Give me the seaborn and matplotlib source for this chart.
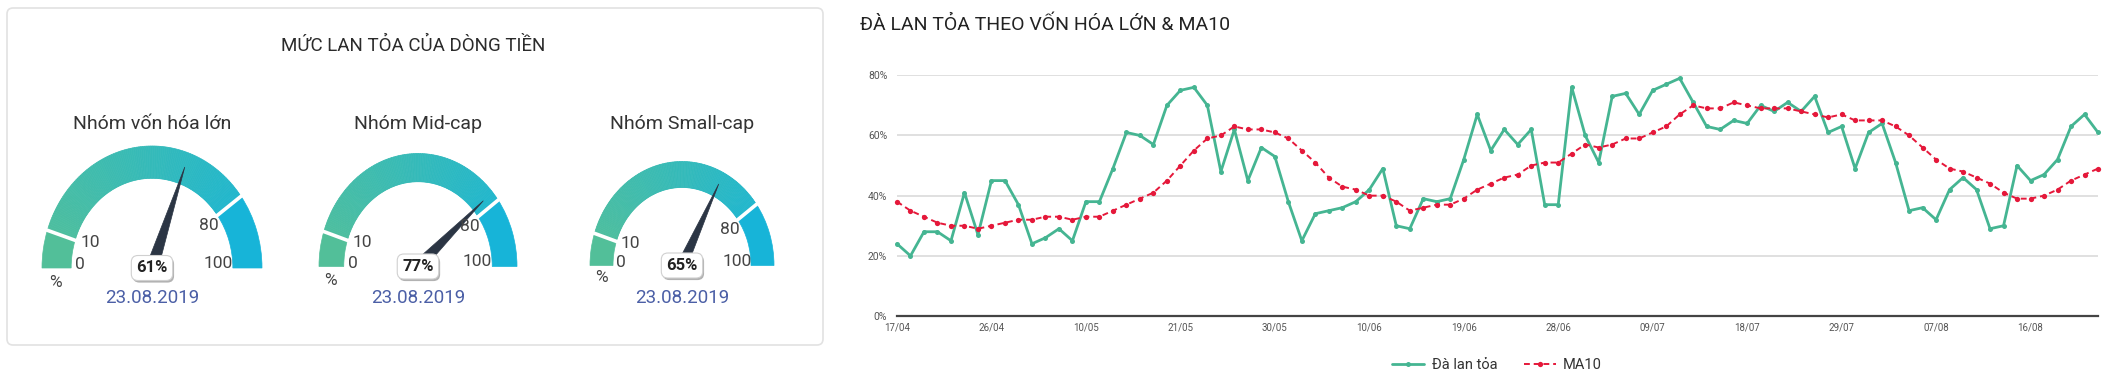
import numpy as np
import pandas as pd
import matplotlib
matplotlib.use("Agg")
import matplotlib.pyplot as plt
import matplotlib.patheffects as pe
from matplotlib.patches import Wedge, Polygon, FancyBboxPatch
from matplotlib.transforms import IdentityTransform
from matplotlib.colors import to_rgb
import seaborn as sns

W, H = 2126, 378

# gauges
gauge_titles = ["Nhóm vốn hóa lớn", "Nhóm Mid-cap", "Nhóm Small-cap"]
gauge_values = [61, 77, 65]
gauge_date = "23.08.2019"
gauge_bands = [0, 10, 80, 100]

# line chart
ngay_nghi = ["2019-04-29", "2019-04-30", "2019-05-01"]
ngay = [d for d in pd.bdate_range("2019-04-17", "2019-08-23") if d.strftime("%Y-%m-%d") not in ngay_nghi]
nhan_ngay = [d.strftime("%d/%m") for d in ngay]

da_lan_toa = [24, 20, 28, 28, 25, 41, 27, 45, 45, 37, 24, 26, 29, 25, 38, 38, 49, 61, 60, 57,
              70, 75, 76, 70, 48, 62, 45, 56, 53, 38, 25, 34, 35, 36, 38, 42, 49, 30, 29, 39,
              38, 39, 52, 67, 55, 62, 57, 62, 37, 37, 76, 60, 51, 73, 74, 67, 75, 77, 79, 71,
              63, 62, 65, 64, 70, 68, 71, 68, 73, 61, 63, 49, 61, 64, 51, 35, 36, 32, 42, 46,
              42, 29, 30, 50, 45, 47, 52, 63, 67, 61]
ma10 = [38, 35, 33, 31, 30, 30, 29, 30, 31, 32, 32, 33, 33, 32, 33, 33, 35, 37, 39, 41,
        45, 50, 55, 59, 60, 63, 62, 62, 61, 59, 55, 51, 46, 43, 42, 40, 40, 38, 35, 36,
        37, 37, 39, 42, 44, 46, 47, 50, 51, 51, 54, 57, 56, 57, 59, 59, 61, 63, 67, 70,
        69, 69, 71, 70, 69, 69, 69, 68, 67, 66, 67, 65, 65, 65, 63, 60, 56, 52, 49, 48,
        46, 44, 41, 39, 39, 40, 42, 45, 47, 49]

sns.set_theme(style="white")
plt.rcParams["font.family"] = ["Roboto", "DejaVu Sans"]

fig = plt.figure(figsize=(W / 100, H / 100), dpi=100)
fig.patch.set_facecolor("white")


def fx(x):
    return x / W


def fy(y):
    return 1 - y / H


# card behind the gauges
card = FancyBboxPatch((7, H - 345), 816, 337, boxstyle="round,pad=0,rounding_size=6",
                      transform=IdentityTransform(), fc="white", ec="#e2e2e2", lw=1.2, zorder=-5)
fig.patches.append(card)
fig.text(fx(413), fy(46), "MỨC LAN TỎA CỦA DÒNG TIỀN", ha="center", va="center",
         fontsize=13.5, color="#2b2b2b")

geo = [(152, 268, 110, 122, 0.265), (418, 266.5, 99, 113, 0.25), (682, 265.5, 92, 104, 0.25)]
c_left, c_mid0, c_mid1, c_right = "#52BF99", "#4DBE9F", "#22B7CD", "#17B4D8"


def ang(v):
    return 180 - v * 1.8


for title, val, (cx, cy, rx, ry, th) in zip(gauge_titles, gauge_values, geo):
    ax = fig.add_axes([fx(cx - 1.3 * rx), fy(cy + 0.45 * ry), 2.6 * rx / W, 1.9 * ry / H])
    ax.set_xlim(-1.3, 1.3)
    ax.set_ylim(-0.45, 1.45)
    ax.axis("off")

    ax.add_patch(Wedge((0, 0), 1, ang(gauge_bands[1]), ang(gauge_bands[0]), width=th,
                       fc=c_left, ec=c_left, lw=0.5))
    a0, a1 = to_rgb(c_mid0), to_rgb(c_mid1)
    steps = 120
    for k in range(steps):
        t = k / (steps - 1)
        col = tuple(a0[j] + (a1[j] - a0[j]) * t for j in range(3))
        v1 = gauge_bands[1] + (gauge_bands[2] - gauge_bands[1]) * k / steps
        v2 = gauge_bands[1] + (gauge_bands[2] - gauge_bands[1]) * (k + 1) / steps
        ax.add_patch(Wedge((0, 0), 1, ang(v2), ang(v1), width=th, fc=col, ec=col, lw=0.5))
    ax.add_patch(Wedge((0, 0), 1, ang(gauge_bands[3]), ang(gauge_bands[2]), width=th,
                       fc=c_right, ec=c_right, lw=0.5))
    for b in gauge_bands[1:3]:
        r = np.radians(ang(b))
        ax.plot([0.68 * np.cos(r), 1.03 * np.cos(r)], [0.68 * np.sin(r), 1.03 * np.sin(r)],
                color="white", lw=2.6, solid_capstyle="butt")

    lab = dict(ha="center", va="center", fontsize=12.5, color="#444444")
    ax.text(-0.66, 0.03, "0", **lab)
    ax.text(-0.56, 0.21, "10", **lab)
    ax.text(0.52, 0.35, "80", **lab)
    ax.text(0.6, 0.04, "100", **lab)
    ax.text(-0.88, -0.12, "%", **lab)

    r = np.radians(ang(val))
    w = 0.055
    needle = Polygon([(0.88 * np.cos(r), 0.88 * np.sin(r)),
                      (-w * np.sin(r), w * np.cos(r)),
                      (w * np.sin(r), -w * np.cos(r))], closed=True, fc="#2B3544", ec="#2B3544", lw=0.5)
    ax.add_patch(needle)

    t = ax.text(0, 0.0, f"{val}%", ha="center", va="center", fontsize=12, fontweight="bold",
                color="#222222",
                bbox=dict(boxstyle="round,pad=0.3,rounding_size=0.4", fc="white", ec="#d0d0d0", lw=0.8))
    t.get_bbox_patch().set_path_effects([pe.withSimplePatchShadow(offset=(1, -1.5), shadow_rgbFace="#666666", alpha=0.5)])

    fig.text(fx(cx), fy(124), title, ha="center", va="center", fontsize=14, color="#333333")
    fig.text(fx(cx), fy(298), gauge_date, ha="center", va="center", fontsize=13.5, color="#4B5FA6")

# line chart
df = pd.DataFrame({"i": range(len(ngay)), "ngay": nhan_ngay, "Đà lan tỏa": da_lan_toa, "MA10": ma10})

ax = fig.add_axes([fx(897), fy(316), (2098 - 897) / W, (316 - 75.3) / H])
sns.lineplot(data=df, x="i", y="Đà lan tỏa", ax=ax, color="#45B592", lw=2.0, marker="o",
             markersize=3.6, markeredgewidth=0, label="Đà lan tỏa", clip_on=False)
sns.lineplot(data=df, x="i", y="MA10", ax=ax, color="#E5183A", lw=1.4, linestyle=(0, (3, 2)),
             marker="o", markersize=3.8, markeredgewidth=0, label="MA10", clip_on=False)

ax.set_xlim(0, len(ngay) - 1)
ax.set_ylim(0, 80)
ax.set_yticks([0, 20, 40, 60, 80])
ax.set_yticklabels([f"{v}%" for v in [0, 20, 40, 60, 80]])
ticks = list(range(0, len(ngay), 7))
ax.set_xticks(ticks)
ax.set_xticklabels([nhan_ngay[k] for k in ticks])
ax.set_xlabel("")
ax.set_ylabel("")
ax.tick_params(axis="y", length=0, pad=7, labelsize=7.5, labelcolor="#555555")
ax.tick_params(axis="x", length=0, pad=5, labelsize=7, labelcolor="#555555")
ax.yaxis.grid(True, color="#dddddd", lw=1.3)
ax.xaxis.grid(False)
for s in ["left", "right", "top"]:
    ax.spines[s].set_visible(False)
ax.spines["bottom"].set_color("#444444")
ax.spines["bottom"].set_linewidth(1.6)
ax.set_facecolor("white")

ax.legend(loc="center", bbox_to_anchor=(fx(1497), fy(365)), bbox_transform=fig.transFigure, ncol=2,
          frameon=False, fontsize=10.5, handlelength=2.2, columnspacing=1.8, handletextpad=0.5,
          labelcolor="#333333")

fig.text(fx(860), fy(25), "ĐÀ LAN TỎA THEO VỐN HÓA LỚN & MA10", ha="left", va="center",
         fontsize=14, color="#222222")

fig.savefig("out.png", dpi=100, facecolor="white")
